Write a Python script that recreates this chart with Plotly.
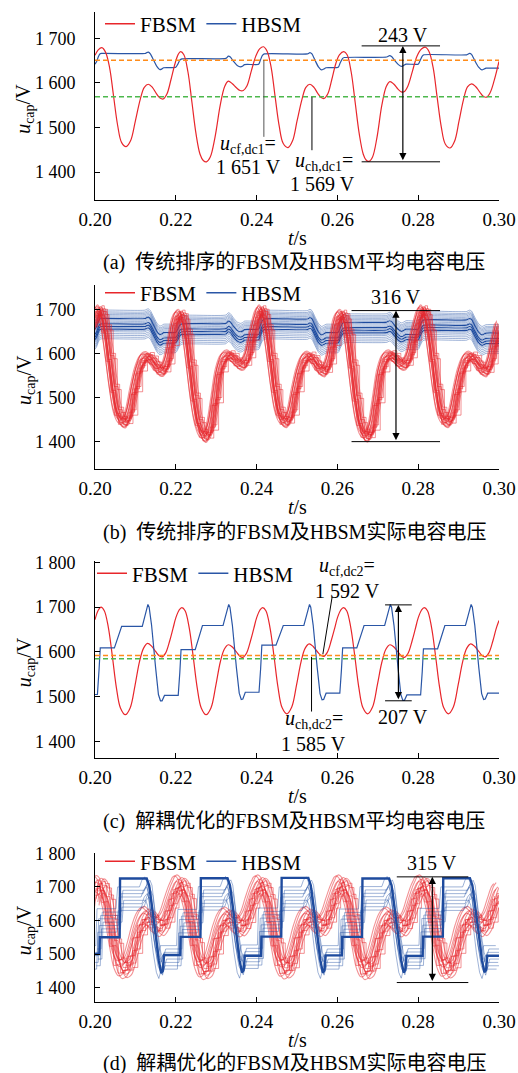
import plotly.graph_objects as go

W, H = 518, 1073
SERIF = "Liberation Serif"
CAPFONT = "Liberation Serif, Noto Sans CJK SC"
RED = "#E8262B"
RED_T = "rgba(232,38,43,0.5)"
BLUE = "#2A56A6"
BLUE_T = "rgba(42,86,166,0.45)"
BLUE_D = "#1E4B9E"
ORANGE = "#FF8C1A"
GREEN = "#4DB84D"

# ---------------- axis ticks ----------------
x_ticks = [0.20, 0.22, 0.24, 0.26, 0.28, 0.30]
x_ticktext = ["0.20", "0.22", "0.24", "0.26", "0.28", "0.30"]
y_ticks_ab = [1400, 1500, 1600, 1700]
y_ticktext_ab = ["1 400", "1 500", "1 600", "1 700"]
y_ticks_cd = [1400, 1500, 1600, 1700, 1800]
y_ticktext_cd = ["1 400", "1 500", "1 600", "1 700", "1 800"]
y_ranges = [[1338, 1759], [1338, 1755], [1364, 1803.6], [1357, 1802]]
cycle_starts = [0.20, 0.22, 0.24, 0.26, 0.28]

# ---------------- (a) average capacitor voltages, conventional sorting ----------------
t_fbsm_a = [0.2000, 0.2008, 0.2017, 0.2026, 0.2036, 0.2046, 0.2056, 0.2066, 0.2077, 0.2088, 0.2100, 0.2112,
            0.2122, 0.2132, 0.2142, 0.2152, 0.2161, 0.2169, 0.2178, 0.2188, 0.2198, 0.2206, 0.2212,
            0.2220, 0.2230, 0.2240, 0.2250, 0.2260, 0.2268, 0.2276, 0.2285, 0.2297, 0.2310, 0.2321,
            0.2330, 0.2340, 0.2350, 0.2359, 0.2367, 0.2376, 0.2387, 0.2398, 0.2408, 0.2417,
            0.2426, 0.2436, 0.2446, 0.2456, 0.2466, 0.2478, 0.2489, 0.2500, 0.2512, 0.2522, 0.2532,
            0.2542, 0.2551, 0.2560, 0.2567, 0.2576, 0.2586, 0.2596, 0.2605, 0.2616,
            0.2624, 0.2634, 0.2644, 0.2654, 0.2664, 0.2671, 0.2678, 0.2687, 0.2698, 0.2710, 0.2721,
            0.2730, 0.2740, 0.2750, 0.2758, 0.2765, 0.2774, 0.2786, 0.2797, 0.2808, 0.2818,
            0.2827, 0.2837, 0.2847, 0.2857, 0.2867, 0.2879, 0.2890, 0.2901, 0.2912, 0.2922, 0.2932,
            0.2942, 0.2952, 0.2961, 0.2969, 0.2978, 0.2988, 0.3000]
v_fbsm_a = [1662, 1674, 1679, 1669, 1635, 1570, 1505, 1466, 1457, 1470, 1515, 1563,
            1590, 1597, 1590, 1576, 1566, 1564, 1575, 1607, 1643, 1664, 1670,
            1663, 1625, 1556, 1486, 1440, 1426, 1423, 1433, 1478, 1550, 1592,
            1604, 1598, 1589, 1583, 1583, 1593, 1627, 1660, 1677, 1681,
            1671, 1635, 1568, 1503, 1464, 1455, 1470, 1514, 1562, 1590, 1597,
            1590, 1577, 1567, 1565, 1575, 1607, 1643, 1663, 1670,
            1663, 1625, 1556, 1486, 1440, 1427, 1424, 1434, 1478, 1550, 1592,
            1603, 1597, 1586, 1580, 1580, 1592, 1627, 1660, 1676, 1680,
            1670, 1634, 1567, 1502, 1463, 1454, 1469, 1514, 1562, 1591, 1598,
            1592, 1580, 1570, 1568, 1578, 1605, 1648]
t_hbsm_a = [0.2000, 0.2004, 0.2008, 0.2012, 0.2016, 0.2124, 0.2128, 0.2132, 0.2137, 0.2145, 0.2153, 0.2160,
            0.2165, 0.2170, 0.2200, 0.2205, 0.2210, 0.2215, 0.2324, 0.2330, 0.2335, 0.2343, 0.2352,
            0.2360, 0.2366, 0.2370, 0.2405, 0.2409, 0.2414, 0.2419, 0.2526, 0.2532, 0.2537, 0.2545,
            0.2553, 0.2561, 0.2566, 0.2572, 0.2602, 0.2607, 0.2613, 0.2617, 0.2722, 0.2729, 0.2734,
            0.2742, 0.2751, 0.2759, 0.2764, 0.2770, 0.2800, 0.2805, 0.2810, 0.2814, 0.2920, 0.2927,
            0.2932, 0.2940, 0.2949, 0.2958, 0.2963, 0.2968, 0.3000]
v_hbsm_a = [1642, 1648, 1658, 1665, 1666, 1666, 1668, 1669, 1665, 1651, 1637, 1630,
            1631, 1634, 1635, 1642, 1651, 1654, 1655, 1660, 1658, 1648, 1639,
            1636, 1638, 1641, 1642, 1650, 1661, 1665, 1665, 1668, 1665, 1650,
            1636, 1629, 1631, 1634, 1635, 1645, 1655, 1657, 1658, 1661, 1659,
            1650, 1641, 1637, 1639, 1642, 1642, 1651, 1660, 1663, 1663, 1666,
            1664, 1650, 1636, 1629, 1631, 1633, 1633]
dc_levels_a = [1651, 1569]

# ---------------- (b) individual capacitor voltages, conventional sorting ----------------
phase_fbsm_b = [0.0000, 0.0006, 0.0012, 0.0018, 0.0026, 0.0036, 0.0046, 0.0056, 0.0066, 0.0075, 0.0085,
                0.0097, 0.0109, 0.0121, 0.0132, 0.0142, 0.0152, 0.0161, 0.0169, 0.0179, 0.0189]
v_fbsm_b_cycles = [
    [1665, 1690, 1698, 1690, 1655, 1590, 1520, 1468, 1447, 1443, 1462, 1515, 1562, 1588, 1592, 1584, 1570, 1561, 1560, 1578, 1620],
    [1672, 1684, 1688, 1680, 1645, 1575, 1500, 1445, 1418, 1410, 1428, 1490, 1560, 1590, 1596, 1590, 1580, 1574, 1575, 1592, 1632],
    [1672, 1690, 1698, 1690, 1655, 1590, 1520, 1468, 1447, 1444, 1462, 1515, 1562, 1588, 1593, 1585, 1570, 1561, 1559, 1578, 1620],
    [1672, 1684, 1688, 1680, 1645, 1575, 1500, 1445, 1418, 1411, 1428, 1490, 1560, 1590, 1596, 1590, 1580, 1574, 1575, 1592, 1632],
    [1672, 1690, 1698, 1690, 1655, 1590, 1520, 1468, 1447, 1444, 1462, 1515, 1562, 1588, 1593, 1585, 1570, 1561, 1559, 1578, 1620],
]
v_fbsm_b_end = 1662
fbsm_b_dt = [-0.0011, -0.0010, -0.0008, -0.0007, -0.0006, -0.0005, -0.0004, -0.0003, -0.0002, -0.0001,
             0.0000, 0.0001, 0.0002, 0.0003, 0.0004, 0.0005, 0.0006, 0.0007, 0.0009, 0.0011]
fbsm_b_dv = [6, -3, -8, 9, 12, -1, -4, 7, 3, -10, -12, 5, 8, -6, 0, 10, -6, 2, -2, 4]
fbsm_b_step = [False, False, True, False, False, False, True, False, False, False,
               False, True, False, False, False, True, False, False, True, False]
hbsm_b_dv = [32, 28, 25, 22, 19, 16, 13, 10, 7, 4, 1, -2, -5, -8, -11, -14, -17, -21, -25, -29, -33]
hbsm_b_dark = [False, False, False, False, False, False, True, False, False, False, True,
               False, True, False, True, False, False, False, False, False, False]

# ---------------- (c) average capacitor voltages, decoupled optimisation ----------------
phase_fbsm_c = [0.0000, 0.0008, 0.0015, 0.0023, 0.0033, 0.0043, 0.0053, 0.0063, 0.0075, 0.0087, 0.0099,
                0.0110, 0.0120, 0.0130, 0.0140, 0.0150, 0.0158, 0.0166, 0.0175, 0.0185, 0.0193]
v_fbsm_c_cycles = [
    [1672, 1693, 1700, 1692, 1655, 1590, 1520, 1475, 1460, 1475, 1525, 1578, 1608, 1619, 1613, 1601, 1592, 1589, 1598, 1625, 1652],
    [1676, 1693, 1699, 1692, 1655, 1590, 1520, 1475, 1460, 1475, 1525, 1577, 1606, 1616, 1611, 1600, 1591, 1588, 1597, 1625, 1652],
    [1676, 1693, 1699, 1692, 1655, 1591, 1521, 1476, 1462, 1477, 1527, 1578, 1608, 1618, 1612, 1601, 1593, 1590, 1599, 1626, 1652],
    [1676, 1693, 1699, 1692, 1655, 1591, 1521, 1476, 1462, 1477, 1527, 1577, 1606, 1616, 1611, 1600, 1591, 1588, 1597, 1625, 1652],
    [1676, 1693, 1699, 1692, 1655, 1591, 1521, 1476, 1462, 1477, 1527, 1578, 1608, 1618, 1612, 1601, 1592, 1589, 1598, 1625, 1652],
]
v_fbsm_c_end = 1670
phase_hbsm_c = [0.0000, 0.0006, 0.0010, 0.0013, 0.0048, 0.0057, 0.0066, 0.0117, 0.0123, 0.0128, 0.0131,
                0.0134, 0.0140, 0.0150, 0.0157, 0.0162, 0.0166, 0.0172]
v_hbsm_c_cycles = [
    [1505, 1505, 1560, 1609, 1609, 1633, 1657, 1657, 1680, 1700, 1706, 1700, 1660, 1565, 1505, 1491, 1491, 1503],
    [1503, 1503, 1555, 1605, 1605, 1632, 1659, 1659, 1681, 1700, 1706, 1700, 1660, 1565, 1508, 1494, 1495, 1510],
    [1510, 1510, 1563, 1615, 1615, 1637, 1659, 1659, 1681, 1700, 1706, 1700, 1660, 1565, 1507, 1493, 1494, 1508],
    [1508, 1508, 1560, 1609, 1609, 1634, 1659, 1659, 1681, 1700, 1706, 1700, 1660, 1565, 1505, 1492, 1492, 1504],
    [1504, 1504, 1556, 1607, 1607, 1633, 1659, 1659, 1681, 1700, 1706, 1700, 1660, 1565, 1507, 1494, 1495, 1508],
]
v_hbsm_c_end = 1508
dc_levels_c = [1592, 1585]

# ---------------- (d) individual capacitor voltages, decoupled optimisation ----------------
phase_fbsm_d = [0.0000, 0.0005, 0.0010, 0.0017, 0.0027, 0.0037, 0.0047, 0.0057, 0.0068, 0.0080, 0.0092,
                0.0104, 0.0116, 0.0128, 0.0138, 0.0148, 0.0160, 0.0172, 0.0184, 0.0194]
v_fbsm_d_cycles = [
    [1670, 1700, 1706, 1700, 1666, 1605, 1535, 1478, 1455, 1463, 1505, 1560, 1598, 1614, 1606, 1590, 1580, 1598, 1640, 1675],
    [1692, 1704, 1708, 1701, 1668, 1607, 1537, 1478, 1452, 1460, 1503, 1558, 1596, 1612, 1604, 1589, 1579, 1597, 1640, 1676],
    [1692, 1704, 1708, 1701, 1667, 1606, 1536, 1478, 1454, 1462, 1505, 1560, 1598, 1614, 1606, 1590, 1580, 1598, 1640, 1675],
    [1692, 1704, 1708, 1701, 1668, 1607, 1537, 1478, 1452, 1460, 1503, 1558, 1596, 1612, 1604, 1589, 1579, 1597, 1640, 1676],
    [1692, 1704, 1708, 1701, 1667, 1606, 1536, 1478, 1454, 1462, 1505, 1560, 1598, 1614, 1606, 1590, 1580, 1598, 1640, 1675],
]
v_fbsm_d_end = 1685
fbsm_d_dt = [-0.0013, -0.0011, -0.0010, -0.0008, -0.0007, -0.0005, -0.0003, -0.0001, 0.0001, 0.0003,
             0.0005, 0.0007, 0.0009, 0.0010, 0.0012, 0.0014]
fbsm_d_dv = [25, -12, -20, 8, 28, -10, 15, -28, 5, -5, 20, -15, 10, -25, 18, -3]
fbsm_d_step = [False, True, False, False, False, True, False, False, True, False,
               False, False, True, False, False, True]
phase_hbsm_d_dark = [0.0000, 0.0011, 0.0012, 0.0061, 0.0062, 0.0128, 0.0134, 0.0142, 0.0150, 0.0158, 0.0164, 0.0168, 0.0171]
v_hbsm_d_dark_cycles = [
    [1500, 1500, 1550, 1550, 1725, 1725, 1705, 1640, 1560, 1480, 1443, 1450, 1497],
    [1497, 1497, 1551, 1551, 1726, 1726, 1705, 1640, 1560, 1480, 1445, 1452, 1495],
    [1495, 1495, 1552, 1552, 1727, 1727, 1705, 1640, 1560, 1480, 1444, 1451, 1496],
    [1496, 1496, 1551, 1551, 1725, 1725, 1705, 1640, 1560, 1480, 1445, 1452, 1494],
    [1494, 1494, 1552, 1552, 1726, 1726, 1705, 1640, 1560, 1480, 1446, 1452, 1495],
]
v_hbsm_d_dark_end = 1495
phase_hbsm_d = [0.0000, 0.0010, 0.0013, 0.0060, 0.0064, 0.0118, 0.0124, 0.0131, 0.0136, 0.0142, 0.0150,
                0.0158, 0.0164, 0.0170]
v_hbsm_d_cycles = [
    [1490, 1490, 1600, 1600, 1665, 1665, 1685, 1695, 1680, 1620, 1540, 1480, 1462, 1490],
    [1490, 1490, 1598, 1598, 1666, 1666, 1686, 1696, 1680, 1620, 1540, 1480, 1463, 1492],
    [1492, 1492, 1602, 1602, 1665, 1665, 1685, 1695, 1680, 1620, 1540, 1480, 1462, 1490],
    [1490, 1490, 1599, 1599, 1666, 1666, 1686, 1696, 1680, 1620, 1540, 1480, 1463, 1491],
    [1491, 1491, 1601, 1601, 1665, 1665, 1685, 1695, 1680, 1620, 1540, 1480, 1462, 1490],
]
v_hbsm_d_end = 1490
hbsm_d_dt = [-0.0006, 0.0003, -0.0002, 0.0007, -0.0004, 0.0001, 0.0005, -0.0008]
hbsm_d_dv = [-35, -25, -15, -5, 5, 15, 25, 35]

assert len(t_fbsm_a) == len(v_fbsm_a), (len(t_fbsm_a), len(v_fbsm_a))
assert len(t_hbsm_a) == len(v_hbsm_a), (len(t_hbsm_a), len(v_hbsm_a))


def unroll(phases, cycles, end_value):
    t, v = [], []
    for c, vals in zip(cycle_starts, cycles):
        assert len(vals) == len(phases)
        t += [round(c + p, 6) for p in phases]
        v += list(vals)
    return t + [0.30], v + [end_value]


t_fbsm_b, v_fbsm_b = unroll(phase_fbsm_b, v_fbsm_b_cycles, v_fbsm_b_end)
t_fbsm_c, v_fbsm_c = unroll(phase_fbsm_c, v_fbsm_c_cycles, v_fbsm_c_end)
t_hbsm_c, v_hbsm_c = unroll(phase_hbsm_c, v_hbsm_c_cycles, v_hbsm_c_end)
t_fbsm_d, v_fbsm_d = unroll(phase_fbsm_d, v_fbsm_d_cycles, v_fbsm_d_end)
t_hbsm_dd, v_hbsm_dd = unroll(phase_hbsm_d_dark, v_hbsm_d_dark_cycles, v_hbsm_d_dark_end)
t_hbsm_d, v_hbsm_d = unroll(phase_hbsm_d, v_hbsm_d_cycles, v_hbsm_d_end)

fig = go.Figure()


def add(x, y, k, color, width=1.2, shape="spline", smoothing=1.0, dash=None):
    ax = "" if k == 1 else str(k)
    fig.add_trace(go.Scatter(x=x, y=y, mode="lines", xaxis="x" + ax, yaxis="y" + ax,
                             line=dict(color=color, width=width, shape=shape,
                                       smoothing=smoothing if shape == "spline" else None, dash=dash),
                             showlegend=False, hoverinfo="skip"))


def add_legend(k, color, name, width=1.5):
    ax = "" if k == 1 else str(k)
    fig.add_trace(go.Scatter(x=[None], y=[None], mode="lines", xaxis="x" + ax, yaxis="y" + ax,
                             line=dict(color=color, width=width), name=name,
                             legend="legend" + ax, showlegend=True))


# (a)
add(t_hbsm_a, v_hbsm_a, 1, BLUE, 1.2, "spline", 0.6)
add(t_fbsm_a, v_fbsm_a, 1, RED, 1.2)
add([0.2, 0.3], [dc_levels_a[0]] * 2, 1, ORANGE, 1.5, "linear", dash="5px,3px")
add([0.2, 0.3], [dc_levels_a[1]] * 2, 1, GREEN, 1.5, "linear", dash="5px,3px")
add_legend(1, RED, "FBSM")
add_legend(1, BLUE, "HBSM")

# (b)
for dv, dark in zip(hbsm_b_dv, hbsm_b_dark):
    add(t_hbsm_a, [v + dv for v in v_hbsm_a], 2, BLUE_D if dark else BLUE_T, 1.2 if dark else 1.0, "spline", 0.6)
for dt, dv, st in zip(fbsm_b_dt, fbsm_b_dv, fbsm_b_step):
    add([t + dt for t in t_fbsm_b], [v + dv for v in v_fbsm_b], 2, RED_T, 1.0 if st else 1.1,
        "hv" if st else "spline")
add_legend(2, RED, "FBSM")
add_legend(2, BLUE, "HBSM")

# (c)
add(t_fbsm_c, v_fbsm_c, 3, RED, 1.2)
add(t_hbsm_c, v_hbsm_c, 3, BLUE, 1.2, "linear")
add([0.2, 0.3], [dc_levels_c[0]] * 2, 3, ORANGE, 1.5, "linear", dash="5px,3px")
add([0.2, 0.3], [dc_levels_c[1]] * 2, 3, GREEN, 1.5, "linear", dash="5px,3px")
add_legend(3, RED, "FBSM")
add_legend(3, BLUE, "HBSM")

# (d)
for dt, dv, st in zip(fbsm_d_dt, fbsm_d_dv, fbsm_d_step):
    add([t + dt for t in t_fbsm_d], [v + dv for v in v_fbsm_d], 4, RED_T, 1.0 if st else 1.1,
        "hv" if st else "spline")
for dt, dv in zip(hbsm_d_dt, hbsm_d_dv):
    add([t + dt for t in t_hbsm_d], [v + dv for v in v_hbsm_d], 4, BLUE_T, 1.0, "linear")
add(t_hbsm_dd, v_hbsm_dd, 4, BLUE_D, 2.4, "linear")
add_legend(4, RED, "FBSM")
add_legend(4, BLUE, "HBSM")

# ---------------- layout ----------------
panel_px = [(12, 199.7), (285, 469), (560.7, 757.7), (852.7, 1002)]
legend_px = [24, 293, 573.7, 861.7]
legend_x = [100, 100, 92, 100]
caption_px = [262.7, 532.7, 821.7, 1063.5]
captions = ["(a)\u2002传统排序的FBSM及HBSM平均电容电压",
            "(b)\u2002传统排序的FBSM及HBSM实际电容电压",
            "(c)\u2002解耦优化的FBSM及HBSM平均电容电压",
            "(d)\u2002解耦优化的FBSM及HBSM实际电容电压"]


def py(px):
    return 1 - px / H


layout = dict(width=W, height=H, margin=dict(l=0, r=0, t=0, b=0, autoexpand=False),
              template="none", autosize=False,
              paper_bgcolor="white", plot_bgcolor="white",
              font=dict(family=SERIF, size=19, color="black"))
annotations = []
shapes = []
for i, (top, bot) in enumerate(panel_px):
    k = "" if i == 0 else str(i + 1)
    ab = i < 2
    layout["xaxis" + k] = dict(domain=[95 / W, 499 / W], range=[0.2, 0.3], anchor="y" + k,
                               automargin=False,
                               tickvals=x_ticks, ticktext=x_ticktext, ticks="inside", ticklen=5,
                               tickcolor="black", showline=True, linecolor="black", linewidth=1,
                               showgrid=False, zeroline=False, ticklabelstandoff=2,
                               tickfont=dict(family=SERIF, size=19, color="black"))
    layout["yaxis" + k] = dict(domain=[py(bot), py(top)], range=y_ranges[i], anchor="x" + k,
                               automargin=False,
                               tickvals=y_ticks_ab if ab else y_ticks_cd,
                               ticktext=y_ticktext_ab if ab else y_ticktext_cd,
                               ticks="inside", ticklen=5, tickcolor="black", showline=True,
                               linecolor="black", linewidth=1, showgrid=False, zeroline=False,
                               ticklabelstandoff=15,
                               tickfont=dict(family=SERIF, size=18, color="black"))
    layout["legend" + k] = dict(x=legend_x[i] / W, y=py(legend_px[i]), xanchor="left", yanchor="middle",
                                orientation="h", bgcolor="rgba(0,0,0,0)", itemwidth=30,
                                font=dict(family=SERIF, size=21, color="black"), traceorder="normal")
    annotations.append(dict(xref="paper", yref="paper", x=25 / W, y=py((top + bot) / 2 + 3),
                            xanchor="center", yanchor="middle",
                            text="<i>u</i><sub>cap</sub>/V", textangle=-90, showarrow=False,
                            font=dict(family=SERIF, size=20, color="black")))
    annotations.append(dict(xref="paper", yref="paper", x=297 / W, y=py(bot + 38),
                            xanchor="center", yanchor="middle",
                            text="<i>t</i>/s", showarrow=False,
                            font=dict(family=SERIF, size=20, color="black")))
    annotations.append(dict(xref="paper", yref="paper", x=294 / W, y=py(caption_px[i]),
                            xanchor="center", yanchor="middle",
                            text=captions[i], showarrow=False,
                            font=dict(family=CAPFONT, size=20, color="black")))

TXT = dict(family=SERIF, size=20, color="black")


def text(k, x, y, s):
    annotations.append(dict(xref="x" + k, yref="y" + k, x=x, y=y, text=s, showarrow=False, font=TXT,
                            xanchor="center", yanchor="middle"))


def seg(k, x0, y0, x1, y1, color="black", width=1):
    shapes.append(dict(type="line", xref="x" + k, yref="y" + k, x0=x0, y0=y0, x1=x1, y1=y1,
                       line=dict(color=color, width=width)))


def darrow(k, x, y0, y1):
    annotations.append(dict(xref="x" + k, yref="y" + k, axref="x" + k, ayref="y" + k,
                            x=x, y=y0, ax=x, ay=y1, text="", showarrow=True, arrowhead=2,
                            arrowside="end+start", arrowsize=1.2, arrowwidth=1.2, arrowcolor="black",
                            standoff=0, startstandoff=0))


# (a) annotations
seg("", 0.2418, 1651, 0.2418, 1479, "#555555")
text("", 0.2379, 1461, "<i>u</i><sub>cf,dc1</sub>=")
text("", 0.2380, 1411, "1 651 V")
seg("", 0.2537, 1568, 0.2537, 1449)
text("", 0.2566, 1423, "<i>u</i><sub>ch,dc1</sub>=")
text("", 0.2563, 1373, "1 569 V")
seg("", 0.2660, 1683, 0.2854, 1683)
seg("", 0.2660, 1423, 0.2854, 1423)
darrow("", 0.2762, 1683, 1423)
text("", 0.2763, 1707, "243 V")

# (b) annotations
seg("2", 0.2635, 1697, 0.2854, 1697)
seg("2", 0.2635, 1400, 0.2854, 1400)
darrow("2", 0.2745, 1697, 1400)
text("2", 0.2744, 1727, "316 V")

# (c) annotations
seg("3", 0.2587, 1723, 0.2564, 1595)
text("3", 0.2623, 1791, "<i>u</i><sub>cf,dc2</sub>=")
text("3", 0.2625, 1737, "1 592 V")
seg("3", 0.2536, 1589, 0.2536, 1467)
text("3", 0.2543, 1449, "<i>u</i><sub>ch,dc2</sub>=")
text("3", 0.2540, 1395, "1 585 V")
seg("3", 0.2718, 1705, 0.2784, 1705)
seg("3", 0.2718, 1491, 0.2784, 1491)
darrow("3", 0.2751, 1705, 1491)
text("3", 0.2763, 1454, "207 V")

# (d) annotations
seg("4", 0.2747, 1730, 0.2924, 1730)
seg("4", 0.2747, 1415, 0.2924, 1415)
darrow("4", 0.2835, 1730, 1415)
text("4", 0.2835, 1770, "315 V")

layout["annotations"] = annotations
layout["shapes"] = shapes
fig.update_layout(**layout)
fig.write_html("out.html", config={"displayModeBar": False, "staticPlot": True},
               post_script="document.body.style.margin='0px';")
